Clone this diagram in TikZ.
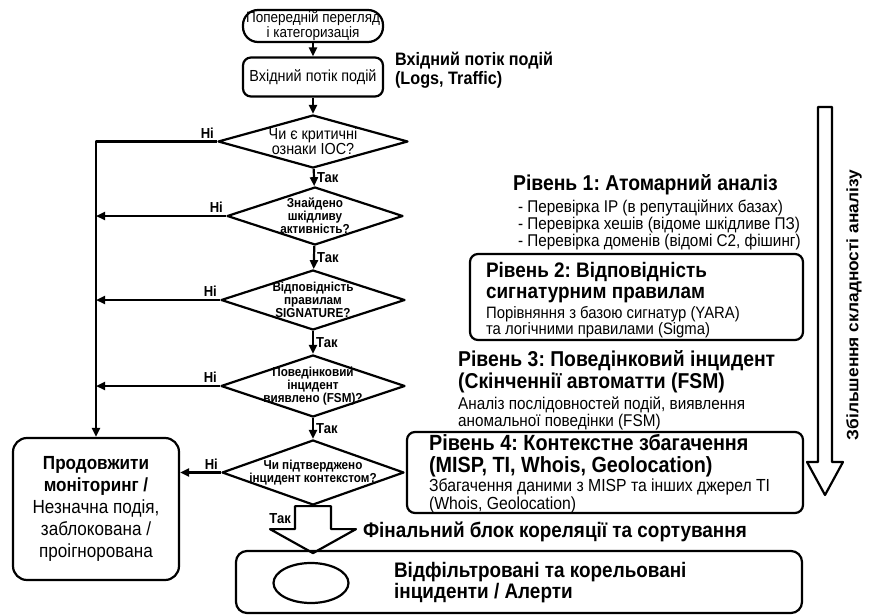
\documentclass[tikz,border=0pt]{standalone}
\usepackage{fontspec}
\setmainfont{Liberation Sans}[FakeStretch=0.9]
\newfontfamily\widefont{Liberation Sans}[FakeStretch=1.05]
\usetikzlibrary{shapes.geometric,arrows.meta,calc}

\newcommand\fsz[2]{\fontsize{#1}{#2}\selectfont}

\begin{document}
\frenchspacing
\begin{tikzpicture}[x=1pt,y=-1pt,line width=2.2pt,line join=round,
  box/.style={draw,rounded corners=8pt,inner sep=0pt,align=center},
  dia/.style={draw,diamond,inner sep=0pt},
  dtxt/.style={font=\fsz{13}{13}\bfseries,align=center,inner sep=0pt},
  arr/.style={-{Triangle[length=9pt,width=8pt]}},
  lbl/.style={font=\fsz{14.5}{16}\bfseries,inner sep=2pt},
  txt/.style={align=left,inner sep=0pt,anchor=north west},
]
\useasboundingbox (0,0) rectangle (871,616);

% entry of the flow
\node[box,rounded corners=15pt,minimum width=140pt,minimum height=32pt,font=\fsz{15}{13}] (pre) at (313,26) {Попередній перегляд\\і категоризація};
\node[box,minimum width=140pt,minimum height=39pt,font=\fsz{16}{16}] (inp) at (313,77) {Вхідний потік подій};
\node[txt,font=\fsz{18}{19}\bfseries] (inplbl) at (394,51) {Вхідний потік подій\\(Logs, Traffic)};

% decisions
\node[dia,minimum width=190pt,minimum height=53pt,
  label={[font=\fsz{16}{15},align=center,inner sep=0pt]center:{Чи є критичні\\ознаки IOC?}}] (d1) at (313,141.5) {};
\node[dia,minimum width=176pt,minimum height=58pt,
  label={[dtxt]center:{Знайдено\\шкідливу\\активність?}}] (d2) at (315,216) {};
\node[dia,minimum width=184pt,minimum height=60pt,
  label={[dtxt]center:{Відповідність\\правилам\\SIGNATURE?}}] (d3) at (313,300) {};
\node[dia,minimum width=184pt,minimum height=62pt,
  label={[dtxt]center:{Поведінковий\\інцидент\\виявлено (FSM)?}}] (d4) at (313,386) {};
\node[dia,minimum width=182pt,minimum height=65pt,
  label={[dtxt]center:{Чи підтверджено\\інцидент контекстом?}}] (d5) at (313,472.5) {};

% outcome boxes
\node[box,rounded corners=14pt,minimum width=166pt,minimum height=142pt,font=\fsz{19}{22}] (mon) at (96,509)
  {\textbf{Продовжити}\\\textbf{моніторинг /}\\Незначна подія,\\заблокована /\\проігнорована};
\node[box,rounded corners=11pt,minimum width=566pt,minimum height=62pt] (fin) at (519,582) {};
\node[draw,ellipse,inner sep=0pt,minimum width=75pt,minimum height=40pt] (ell) at (311,583) {};
\node[txt,font=\fsz{21}{21}\bfseries] (fintxt) at (393,561)
  {Відфільтровані та корельовані\\інциденти / Алерти};
\node[txt,font=\fsz{21}{21}\bfseries] (finlbl) at (362,521)
  {Фінальний блок кореляції та сортування};

% levels of analysis
\node[txt,font=\fsz{21.5}{22}\bfseries] (l1t) at (512,173) {Рівень 1: Атомарний аналіз};
\node[txt,font=\fsz{17}{13.5}] (l1b) at (517,199)
  {- Перевірка IP (в репутаційних базах)\\- Перевірка хешів (відоме шкідливе ПЗ)\\- Перевірка доменів (відомі C2, фішинг)};

\node[box,minimum width=333pt,minimum height=86pt] (l2) at (636.5,297) {};
\node[txt,font=\fsz{21}{21}\bfseries] (l2t) at (485,261) {Рівень 2: Відповідність\\сигнатурним правилам};
\node[txt,font=\fsz{16.5}{16}] (l2b) at (485,305) {Порівняння з базою сигнатур (YARA)\\та логічними правилами (Sigma)};

\node[txt,font=\fsz{21.5}{22}\bfseries] (l3t) at (457,349) {Рівень 3: Поведінковий інцидент\\(Скінченнії автоматти (FSM)};
\node[txt,font=\fsz{17}{15}] (l3b) at (457,396) {Аналіз послідовностей подій, виявлення\\аномальної поведінки (FSM)};

\node[box,minimum width=396pt,minimum height=81pt] (l4) at (605,472.5) {};
\node[txt,font=\fsz{22}{22}\bfseries] (l4t) at (428,433) {Рівень 4: Контекстне збагачення\\(MISP, TI, Whois, Geolocation)};
\node[txt,font=\fsz{17.5}{14}] (l4b) at (428,478) {Збагачення даними з MISP та інших джерел TI\\(Whois, Geolocation)};

% main flow
\draw[arr] (pre) -- (inp);
\draw[arr] (inp) -- (d1);
\draw[arr] (d1) -- node[lbl,right] {Так} (d2);
\draw[arr] (d2) -- node[lbl,right] {Так} (d3);
\draw[arr] (d3) -- node[lbl,right] {Так} (d4);
\draw[arr] (d4) -- node[lbl,right] {Так} (d5);

% rejected branches
\draw[arr] (d1.west) -- node[lbl,pos=0,above left] {Ні} (d1.west -| mon.north) -- (mon.north);
\draw[arr] (d2.west) -- node[lbl,pos=0,above left] {Ні} (d2.west -| mon.north);
\draw[arr] (d3.west) -- node[lbl,pos=0,above left] {Ні} (d3.west -| mon.north);
\draw[arr] (d4.west) -- node[lbl,pos=0,above left] {Ні} (d4.west -| mon.north);
\draw[arr] (d5.west) -- node[lbl,pos=0,above left] {Ні} (d5.west -| mon.east);

% confirmed incidents go to the final block
\draw (d5.south) ++(-18,0) -- ++(0,23) -- ++(-25,0) -- ++(43,24) -- ++(43,-24) -- ++(-25,0) -- ++(0,-23) -- cycle;
\node[lbl,anchor=east] (yes5) at ($(d5.south)+(-19,12)$) {Так};

% growth of analysis complexity
\draw (818,107) -- (818,462) -- (807,462) -- (825,495) -- (843,462) -- (832,462) -- (832,107) -- cycle;
\node[rotate=90,font=\widefont\fsz{16.5}{17}\bfseries,inner sep=0pt] (axis) at (854,305) {Збільшення складності аналізу};
\end{tikzpicture}
\end{document}
